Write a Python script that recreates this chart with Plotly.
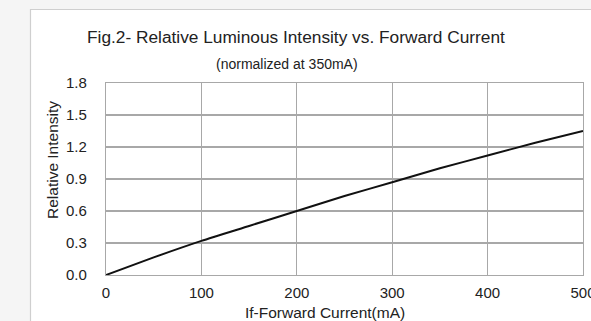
import plotly.graph_objects as go

# Data
current_ma = [0, 50, 100, 150, 200, 250, 300, 350, 400, 450, 500]
relative_intensity = [0.0, 0.165, 0.32, 0.46, 0.60, 0.74, 0.87, 1.0, 1.12, 1.24, 1.35]

x_ticks = [0, 100, 200, 300, 400, 500]
y_ticks = [0.0, 0.3, 0.6, 0.9, 1.2, 1.5, 1.8]

title_text = "Fig.2- Relative Luminous Intensity vs. Forward Current"
subtitle_text = "(normalized at 350mA)"
x_title = "If-Forward Current(mA)"
y_title = "Relative Intensity"

FONT = "Liberation Sans, Arial, sans-serif"
TXT = "#222222"
GRID = "#a8a8a8"

fig = go.Figure()
fig.add_trace(go.Scatter(
    x=current_ma, y=relative_intensity, mode="lines",
    line=dict(color="#111111", width=2, shape="spline", smoothing=0.6),
    showlegend=False, hoverinfo="skip",
))

W, H = 591, 321
L, R, T, B = 106, 8, 83, 46
pw = W - L - R
ph = H - T - B

def px2paper_x(px):
    return (px - L) / pw

def px2paper_y(py):
    return (H - B - py) / ph

fig.update_layout(
    width=W, height=H, autosize=False,
    margin=dict(l=L, r=R, t=T, b=B, pad=0, autoexpand=False),
    paper_bgcolor="#f5f5f5",
    plot_bgcolor="#ffffff",
    font=dict(family=FONT, color=TXT, size=15),
    xaxis=dict(
        range=[0, 500], tickvals=x_ticks, ticktext=[str(v) for v in x_ticks],
        showgrid=True, gridcolor=GRID, gridwidth=1.2,
        showline=True, linecolor=GRID, linewidth=1.2, mirror=True,
        zeroline=False, ticks="", ticklabelstandoff=4,
        ticklabeloverflow="allow", automargin=False,
        tickfont=dict(size=15, color=TXT),
        fixedrange=True,
    ),
    yaxis=dict(
        range=[0, 1.8], tickvals=y_ticks, ticktext=[f"{v:.1f}" for v in y_ticks],
        showgrid=True, gridcolor=GRID, gridwidth=1.2,
        showline=True, linecolor=GRID, linewidth=1.2, mirror=True,
        zeroline=False, ticks="", ticklabelstandoff=15,
        ticklabeloverflow="allow", automargin=False,
        tickfont=dict(size=15, color=TXT),
        fixedrange=True,
    ),
    shapes=[
        dict(type="rect", xref="paper", yref="paper",
             x0=px2paper_x(30.5), x1=px2paper_x(600),
             y0=px2paper_y(340), y1=px2paper_y(9.5),
             fillcolor="#ffffff", line=dict(color="#cfcfcf", width=1.2),
             layer="below"),
    ],
    annotations=[
        dict(text=title_text, xref="paper", yref="paper",
             x=px2paper_x(296), y=px2paper_y(37), xanchor="center", yanchor="middle",
             showarrow=False, font=dict(size=17.3, color=TXT, family=FONT)),
        dict(text=subtitle_text, xref="paper", yref="paper",
             x=px2paper_x(287), y=px2paper_y(64), xanchor="center", yanchor="middle",
             showarrow=False, font=dict(size=14, color=TXT, family=FONT)),
        dict(text=x_title, xref="paper", yref="paper",
             x=px2paper_x(325), y=px2paper_y(312.5), xanchor="center", yanchor="middle",
             showarrow=False, font=dict(size=15.5, color=TXT, family=FONT)),
        dict(text=y_title, xref="paper", yref="paper", textangle=-90,
             x=px2paper_x(52), y=px2paper_y(160), xanchor="center", yanchor="middle",
             showarrow=False, font=dict(size=15.5, color=TXT, family=FONT)),
    ],
)

fig.write_html(
    "out.html",
    config={"responsive": False, "displayModeBar": False, "staticPlot": True},
    post_script="document.body.style.margin='0';document.body.style.padding='0';document.body.style.overflow='hidden';",
)
